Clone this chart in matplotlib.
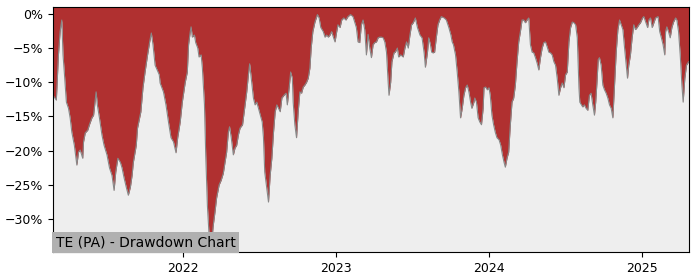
import pandas as pd
import matplotlib.pyplot as plt
import matplotlib.ticker as mticker

# Drawdown values (%)
datas = [
    '2021-02-24', '2021-03-04', '2021-03-09', '2021-03-13', '2021-03-17', '2021-03-20', '2021-03-23', '2021-03-28',
    '2021-04-02', '2021-04-06', '2021-04-10', '2021-04-16', '2021-04-22', '2021-04-26', '2021-04-30', '2021-05-06',
    '2021-05-08', '2021-05-12', '2021-05-18', '2021-05-22', '2021-05-28', '2021-06-01', '2021-06-05', '2021-06-07',
    '2021-06-10', '2021-06-15', '2021-06-21', '2021-06-26', '2021-07-03', '2021-07-09', '2021-07-15', '2021-07-20',
    '2021-07-24', '2021-07-29', '2021-08-04', '2021-08-08', '2021-08-13', '2021-08-18', '2021-08-23', '2021-08-28',
    '2021-09-01', '2021-09-04', '2021-09-11', '2021-09-14', '2021-09-19', '2021-09-22', '2021-09-27', '2021-10-02',
    '2021-10-08', '2021-10-13', '2021-10-17', '2021-10-21', '2021-10-26', '2021-11-05', '2021-11-07', '2021-11-15',
    '2021-11-21', '2021-11-27', '2021-12-03', '2021-12-09', '2021-12-15', '2021-12-19', '2021-12-25', '2021-12-30',
    '2022-01-06', '2022-01-11', '2022-01-14', '2022-01-18', '2022-01-20', '2022-01-23', '2022-01-28', '2022-01-31',
    '2022-02-05', '2022-02-08', '2022-02-13', '2022-02-16', '2022-02-21', '2022-02-24', '2022-02-28', '2022-03-04',
    '2022-03-06', '2022-03-11', '2022-03-14', '2022-03-18', '2022-03-22', '2022-03-28', '2022-04-02', '2022-04-07',
    '2022-04-11', '2022-04-15', '2022-04-19', '2022-04-22', '2022-04-26', '2022-05-01', '2022-05-05', '2022-05-09',
    '2022-05-13', '2022-05-17', '2022-05-23', '2022-05-27', '2022-06-02', '2022-06-06', '2022-06-09', '2022-06-14',
    '2022-06-18', '2022-06-22', '2022-06-26', '2022-06-30', '2022-07-06', '2022-07-09', '2022-07-12', '2022-07-15',
    '2022-07-20', '2022-07-24', '2022-07-28', '2022-08-01', '2022-08-05', '2022-08-09', '2022-08-13', '2022-08-17',
    '2022-08-21', '2022-08-25', '2022-08-30', '2022-09-04', '2022-09-07', '2022-09-12', '2022-09-15', '2022-09-19',
    '2022-09-21', '2022-09-25', '2022-09-29', '2022-10-03', '2022-10-07', '2022-10-11', '2022-10-15', '2022-10-19',
    '2022-10-23', '2022-10-27', '2022-10-31', '2022-11-03', '2022-11-07', '2022-11-12', '2022-11-18', '2022-11-22',
    '2022-11-26', '2022-12-02', '2022-12-06', '2022-12-10', '2022-12-14', '2022-12-18', '2022-12-22', '2022-12-26',
    '2022-12-30', '2023-01-03', '2023-01-06', '2023-01-11', '2023-01-15', '2023-01-20', '2023-01-25', '2023-01-30',
    '2023-02-05', '2023-02-11', '2023-02-15', '2023-02-19', '2023-02-23', '2023-02-27', '2023-03-03', '2023-03-07',
    '2023-03-11', '2023-03-15', '2023-03-19', '2023-03-23', '2023-03-27', '2023-03-31', '2023-04-04', '2023-04-08',
    '2023-04-12', '2023-04-16', '2023-04-20', '2023-04-24', '2023-04-28', '2023-05-02', '2023-05-06', '2023-05-08',
    '2023-05-12', '2023-05-15', '2023-05-20', '2023-05-23', '2023-05-28', '2023-05-31', '2023-06-05', '2023-06-11',
    '2023-06-15', '2023-06-19', '2023-06-23', '2023-06-27', '2023-07-01', '2023-07-05', '2023-07-10', '2023-07-15',
    '2023-07-21', '2023-07-26', '2023-07-31', '2023-08-03', '2023-08-08', '2023-08-11', '2023-08-15', '2023-08-18',
    '2023-08-21', '2023-08-25', '2023-08-29', '2023-09-02', '2023-09-06', '2023-09-10', '2023-09-17', '2023-09-22',
    '2023-09-28', '2023-10-03', '2023-10-06', '2023-10-09', '2023-10-14', '2023-10-18', '2023-10-22', '2023-10-26',
    '2023-10-30', '2023-11-03', '2023-11-07', '2023-11-11', '2023-11-15', '2023-11-19', '2023-11-22', '2023-11-27',
    '2023-11-29', '2023-12-03', '2023-12-07', '2023-12-11', '2023-12-15', '2023-12-19', '2023-12-21', '2023-12-25',
    '2023-12-29', '2024-01-02', '2024-01-05', '2024-01-09', '2024-01-13', '2024-01-17', '2024-01-21', '2024-01-26',
    '2024-01-30', '2024-02-03', '2024-02-07', '2024-02-10', '2024-02-14', '2024-02-18', '2024-02-22', '2024-02-26',
    '2024-03-01', '2024-03-05', '2024-03-09', '2024-03-13', '2024-03-17', '2024-03-21', '2024-03-25', '2024-03-29',
    '2024-04-02', '2024-04-06', '2024-04-10', '2024-04-14', '2024-04-18', '2024-04-22', '2024-04-26', '2024-04-30',
    '2024-05-04', '2024-05-08', '2024-05-12', '2024-05-16', '2024-05-20', '2024-05-24', '2024-05-28', '2024-06-01',
    '2024-06-05', '2024-06-09', '2024-06-13', '2024-06-17', '2024-06-21', '2024-06-25', '2024-06-29', '2024-07-03',
    '2024-07-07', '2024-07-11', '2024-07-15', '2024-07-19', '2024-07-23', '2024-07-27', '2024-07-31', '2024-08-04',
    '2024-08-06', '2024-08-10', '2024-08-13', '2024-08-17', '2024-08-21', '2024-08-25', '2024-08-29', '2024-09-02',
    '2024-09-06', '2024-09-10', '2024-09-13', '2024-09-16', '2024-09-19', '2024-09-22', '2024-09-26', '2024-09-30',
    '2024-10-04', '2024-10-08', '2024-10-12', '2024-10-16', '2024-10-20', '2024-10-24', '2024-10-28', '2024-11-01',
    '2024-11-05', '2024-11-09', '2024-11-13', '2024-11-17', '2024-11-21', '2024-11-25', '2024-11-28', '2024-12-01',
    '2024-12-05', '2024-12-09', '2024-12-13', '2024-12-17', '2024-12-21', '2024-12-25', '2024-12-29', '2025-01-03',
    '2025-01-06', '2025-01-11', '2025-01-15', '2025-01-18', '2025-01-22', '2025-01-26', '2025-01-30', '2025-02-03',
    '2025-02-09', '2025-02-13', '2025-02-17', '2025-02-21', '2025-02-25', '2025-02-27', '2025-03-02', '2025-03-06',
    '2025-03-10', '2025-03-14', '2025-03-18', '2025-03-23', '2025-03-26', '2025-03-30', '2025-04-03', '2025-04-07',
    '2025-04-10', '2025-04-14', '2025-04-18', '2025-04-23',
]

drawdown = [
    -11.9, -12.6, -6.0, -2.6, -0.9, -6.0, -8.5, -12.9,
    -13.8, -15.2, -17.3, -19.2, -22.1, -20.2, -19.9, -21.1,
    -18.7, -17.4, -17.0, -16.2, -15.2, -14.8, -12.6, -11.4,
    -13.3, -15.2, -17.7, -19.2, -20.6, -22.5, -23.6, -25.8,
    -23.1, -21.1, -21.7, -22.5, -24.0, -25.3, -26.5, -25.3,
    -23.6, -21.7, -19.2, -16.7, -15.2, -14.3, -10.8, -8.5,
    -6.0, -4.1, -2.8, -4.5, -7.5, -8.9, -10.1, -11.4,
    -13.3, -15.8, -18.1, -18.7, -20.3, -18.1, -15.8, -12.9,
    -10.0, -8.5, -4.5, -2.6, -1.9, -3.4, -3.1, -4.2,
    -5.0, -6.3, -6.0, -7.9, -13.3, -20.6, -28.0, -32.3,
    -34.5, -32.8, -30.9, -29.0, -26.9, -25.0, -24.3, -23.3,
    -21.7, -20.2, -17.3, -16.5, -18.1, -20.6, -19.6, -19.2,
    -17.7, -16.7, -16.2, -14.3, -11.4, -8.9, -7.3, -10.0,
    -12.3, -13.3, -12.9, -13.8, -15.2, -15.8, -18.1, -23.1,
    -25.5, -27.5, -23.6, -21.1, -17.3, -14.3, -13.3, -13.8,
    -14.3, -12.3, -11.9, -11.6, -13.3, -10.4, -8.5, -9.4,
    -12.9, -16.2, -18.1, -14.3, -11.4, -11.6, -10.7, -10.4,
    -10.0, -9.4, -7.9, -5.0, -2.6, -1.2, -0.1, -0.6,
    -2.0, -2.6, -3.4, -3.1, -3.4, -3.1, -2.6, -3.4,
    -4.1, -2.6, -1.6, -2.0, -0.9, -0.6, -0.9, -0.4,
    -0.1, -0.4, -1.2, -2.0, -4.1, -4.2, -1.6, -0.9,
    -2.3, -6.0, -3.0, -5.0, -6.4, -4.5, -4.2, -4.1,
    -3.5, -3.4, -3.4, -3.5, -4.1, -5.6, -10.0, -11.9,
    -10.0, -7.0, -5.7, -5.6, -5.0, -6.3, -6.0, -6.3,
    -5.0, -4.1, -5.0, -3.1, -1.6, -1.3, -0.6, -2.0,
    -3.1, -3.5, -5.7, -7.8, -5.6, -3.5, -4.5, -5.6,
    -5.7, -5.6, -3.5, -1.6, -0.9, -0.4, -0.6, -0.9,
    -2.0, -3.1, -4.1, -4.5, -6.0, -8.5, -11.4, -15.2,
    -13.8, -11.9, -10.8, -10.4, -11.4, -12.9, -13.8, -12.9,
    -12.3, -12.9, -15.2, -15.8, -16.2, -13.8, -10.8, -10.7,
    -11.1, -10.8, -11.9, -14.8, -16.2, -17.3, -18.1, -18.4,
    -19.2, -20.6, -21.7, -22.4, -21.1, -20.2, -16.2, -12.9,
    -12.3, -10.4, -7.0, -4.1, -2.6, -0.9, -0.9, -1.3,
    -0.9, -0.6, -4.5, -5.6, -5.7, -6.4, -7.2, -8.2,
    -6.4, -5.0, -4.2, -4.1, -4.8, -5.6, -5.7, -6.0,
    -7.0, -7.5, -9.4, -11.9, -10.8, -10.1, -10.8, -8.9,
    -8.5, -4.1, -2.0, -1.2, -1.3, -1.6, -3.5, -10.8,
    -12.9, -13.3, -13.6, -13.3, -13.8, -14.1, -11.9, -11.6,
    -13.3, -14.8, -12.9, -10.0, -6.7, -6.4, -7.5, -10.4,
    -11.1, -11.6, -12.3, -13.3, -13.8, -15.2, -10.4, -5.6,
    -2.3, -0.9, -1.6, -2.3, -5.0, -7.5, -9.4, -7.5,
    -6.0, -3.5, -1.6, -2.3, -2.0, -1.6, -1.3, -0.6,
    -0.4, -1.3, -2.0, -0.9, -0.6, -2.0, -1.3, -0.6,
    -0.4, -2.6, -3.5, -4.5, -6.0, -2.6, -1.9, -2.6,
    -3.5, -2.0, -1.2, -0.6, -0.9, -2.6, -6.0, -10.4,
    -12.9, -9.4, -7.5, -7.0,
]

titulo = 'TE (PA) - Drawdown Chart'

df = pd.DataFrame({'data': pd.to_datetime(datas), 'dd': drawdown})

fig = plt.figure(figsize=(7, 2.8), dpi=100)
ax = fig.add_axes([0.0757, 0.1, 0.908, 0.875])
ax.set_facecolor('#eeeeee')

y_min, y_max = -34.8, 1.0

# area vermelha vai do drawdown até o topo do gráfico
ax.fill_between(df['data'], df['dd'], y_max, color='#b03030', linewidth=0)
ax.plot(df['data'], df['dd'], color='#888888', linewidth=0.8)

ax.set_xlim(df['data'].iloc[0], df['data'].iloc[-1])
ax.set_ylim(y_min, y_max)
ax.set_yticks([0, -5, -10, -15, -20, -25, -30])
ax.yaxis.set_major_formatter(
    mticker.FuncFormatter(lambda v, p: f'{v:.0f}%'.replace('-', '\u2212')))

anos = pd.to_datetime(['2022-01-01', '2023-01-01', '2024-01-01', '2025-01-01'])
ax.set_xticks(anos)
ax.set_xticklabels([str(a.year) for a in anos])
ax.tick_params(labelsize=9)

ax.text(0.004, 0.012, titulo, transform=ax.transAxes, fontsize=10,
        ha='left', va='bottom',
        bbox=dict(facecolor='#b0b0b0', edgecolor='none', pad=2.5))

plt.savefig('out.png', dpi=100)
